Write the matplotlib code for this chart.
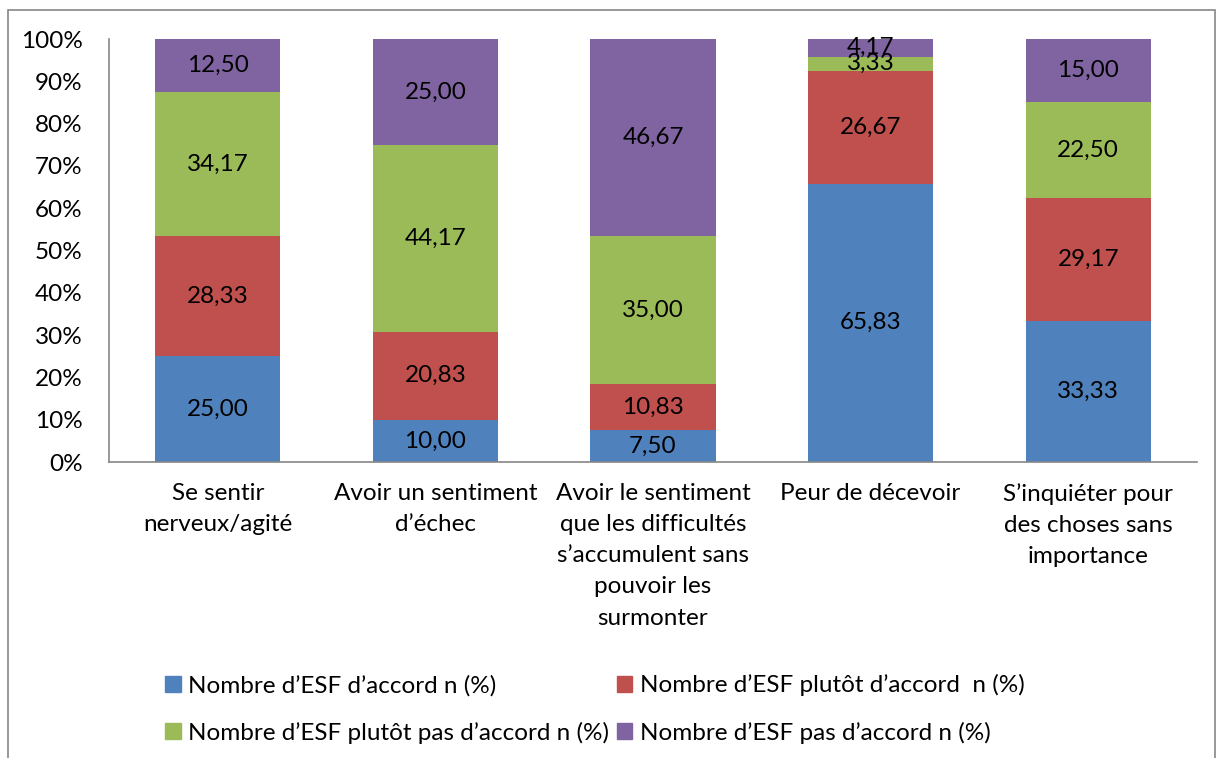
import matplotlib
matplotlib.use("Agg")
import matplotlib.pyplot as plt
from matplotlib.patches import Rectangle, Patch
import numpy as np

plt.rcParams['font.family'] = ['Lato', 'DejaVu Sans']

categories = ["Se sentir\nnerveux/agité", "Avoir un sentiment\nd\u2019échec",
              "Avoir le sentiment\nque les difficultés\ns\u2019accumulent sans\npouvoir les\nsurmonter",
              "Peur de décevoir", "S\u2019inquiéter pour\ndes choses sans\nimportance"]
series_names = ["Nombre d\u2019ESF d\u2019accord n (%)",
                "Nombre d\u2019ESF plutôt d\u2019accord  n (%)",
                "Nombre d\u2019ESF plutôt pas d\u2019accord n (%)",
                "Nombre d\u2019ESF pas d\u2019accord n (%)"]
d_accord = [25.00, 10.00, 7.50, 65.83, 33.33]
plutot_accord = [28.33, 20.83, 10.83, 26.67, 29.17]
plutot_pas = [34.17, 44.17, 35.00, 3.33, 22.50]
pas_accord = [12.50, 25.00, 46.67, 4.17, 15.00]
colors = ["#4F81BD", "#C0504D", "#9BBB59", "#8064A2"]

W, H = 1226, 758
fig = plt.figure(figsize=(W/100, H/100), dpi=100)
fig.patches.append(Rectangle((8/W, -0.1), (1215-8)/W, 1.1 - 10/H, transform=fig.transFigure,
                             fill=False, edgecolor="#868686", linewidth=1.2))
ax = fig.add_axes([109/W, 1-462/H, (1197-109)/W, (462-39)/H])

series = [d_accord, plutot_accord, plutot_pas, pas_accord]
x = np.arange(len(categories))
bottom = np.zeros(len(categories))
fs = 17.5
for vals, col in zip(series, colors):
    vals = np.array(vals)
    ax.bar(x, vals, width=0.575, bottom=bottom, color=col, edgecolor="none")
    for xi, b, v in zip(x, bottom, vals):
        ax.text(xi, b + v/2, f"{v:.2f}".replace(".", ","), ha="center", va="center",
                fontsize=fs, color="black")
    bottom = bottom + vals

ax.set_xlim(-0.5, len(categories) - 0.5)
ax.set_ylim(0, 100)
ax.set_yticks(np.arange(0, 101, 10))
ax.set_yticklabels([f"{v}%" for v in range(0, 101, 10)], fontsize=fs)
ax.set_xticks(x)
ax.set_xticklabels(categories, fontsize=fs, linespacing=1.6, va="top")
ax.tick_params(axis="x", length=0, pad=15)
ax.tick_params(axis="y", length=0, pad=19)
for s in ["top", "right"]:
    ax.spines[s].set_visible(False)
for s in ["left", "bottom"]:
    ax.spines[s].set_color("#868686")
    ax.spines[s].set_linewidth(1.2)

handles = [Patch(color=c) for c in colors]
order = [0, 2, 1, 3]
fig.legend([handles[i] for i in order], [series_names[i] for i in order],
           ncol=2, loc="upper left", bbox_to_anchor=(153/W, 1-662/H), frameon=False,
           fontsize=fs, handlelength=0.65, handleheight=0.65, handletextpad=0.3,
           columnspacing=0.3, labelspacing=1.05, borderpad=0)

fig.savefig("out.png", dpi=100)
